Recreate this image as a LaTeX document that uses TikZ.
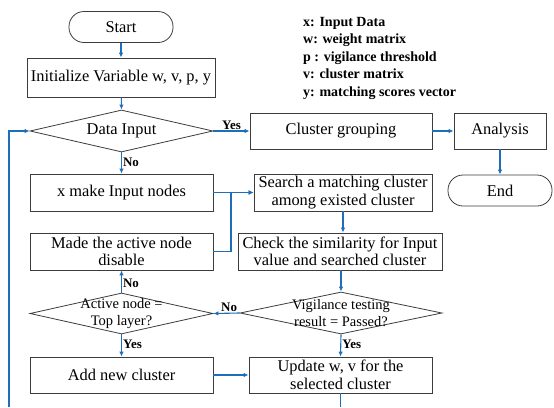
\documentclass[tikz,border=0pt]{standalone}
\usepackage{fontspec}
\setmainfont{Liberation Serif}
\usetikzlibrary{shapes.geometric,arrows.meta}
\definecolor{flow}{RGB}{30,110,185}
\definecolor{edge}{RGB}{60,60,60}
\begin{document}
\begin{tikzpicture}[x=1pt,y=-1pt,
  box/.style={draw=edge,line width=0.8pt,rectangle,inner sep=0pt,align=center,
    font=\fontsize{16.4}{17.5}\selectfont},
  term/.style={box,rounded corners=15pt},
  dia/.style={draw=edge,line width=0.8pt,diamond,inner sep=0pt,aspect=4},
  dtext/.style={align=center,font=\fontsize{14.5}{16.5}\selectfont,inner sep=0pt},
  arr/.style={draw=flow,line width=1.1pt,-{Latex[length=5pt,width=4.5pt]}},
  lin/.style={draw=flow,line width=1.1pt},
  lab/.style={font=\bfseries\fontsize{13}{14}\selectfont,inner sep=1pt}]
\useasboundingbox (0,0) rectangle (554,407);

\node[term,minimum width=104pt,minimum height=31pt] (start) at (121,27) {Start};
\node[box,minimum width=188pt,minimum height=39pt] (init) at (121,77.5) {Initialize Variable w, v, p, y};
\node[dia,minimum width=183pt,minimum height=42pt] (data) at (121.5,131) {};
\node[font=\fontsize{16.4}{18}\selectfont,inner sep=0pt] (datat) at (data.center) {Data Input};
\node[box,minimum width=182pt,minimum height=36pt] (clus) at (341,131) {Cluster grouping};
\node[box,minimum width=92pt,minimum height=36pt] (ana) at (500,131) {Analysis};
\node[term,minimum width=104pt,minimum height=31pt] (endn) at (500,190.5) {End};
\node[box,minimum width=183pt,minimum height=37pt] (xmake) at (121.5,192.5) {x make Input nodes};
\node[box,minimum width=178pt,minimum height=37pt] (search) at (343,192.5) {Search a matching cluster\\among existed cluster};
\node[box,minimum width=183pt,minimum height=37pt] (made) at (121.5,251.5) {Made the active node\\disable};
\node[box,minimum width=204pt,minimum height=37pt] (check) at (340,251.5) {Check the similarity for Input\\value and searched cluster};
\node[dia,minimum width=183pt,minimum height=41pt] (act) at (121.5,313.5) {};
\node[dtext] (actt) at (act.center) {Active node =\\Top layer?};
\node[dia,minimum width=202pt,minimum height=42pt] (vig) at (341,313) {};
\node[dtext] (vigt) at (vig.center) {Vigilance testing\\result = Passed?};
\node[box,minimum width=183pt,minimum height=36pt] (add) at (121.5,375) {Add new cluster};
\node[box,minimum width=183pt,minimum height=36pt] (upd) at (340.5,375) {Update w, v for the\\selected cluster};

\node[anchor=north west,align=left,inner sep=0pt,
  font=\bfseries\fontsize{14}{17.5}\selectfont] (legend) at (303,17)
  {x: Input Data\\w: weight matrix\\p : vigilance threshold\\v: cluster matrix\\y: matching scores vector};

\coordinate (jn) at (231,192.5);
\coordinate (ubot) at (340.5,407);
\coordinate (lbot) at (9,407);

\draw[arr] (start) -- (init);
\draw[arr] (init) -- (data.north);
\draw[arr] (data.east) -- node[lab,above]{Yes} (clus.west);
\draw[arr] (clus) -- (ana);
\draw[arr] (ana) -- (endn);
\draw[arr] (data.south) -- node[lab,right,pos=0.45]{No} (xmake.north);
\draw[arr] (xmake.east) -- (search.west);
\draw[arr] (made.east) -| (jn) -- (search.west);
\draw[arr] (search.south) -- (search.south |- check.north);
\draw[arr] (check.south -| vig.north) -- (vig.north);
\draw[arr] (vig.west) -- node[lab,above,pos=0.4]{No} (act.east);
\draw[arr] (act.north) -- node[lab,right,pos=0.4]{No} (made.south);
\draw[arr] (act.south) -- node[lab,right,pos=0.45]{Yes} (add.north);
\draw[arr] (vig.south) -- node[lab,right,pos=0.45]{Yes} (upd.north);
\draw[arr] (add.east) -- (upd.west);
\draw[lin] (upd.south) -- (ubot);
\draw[arr] (lbot) |- (data.west);
\end{tikzpicture}
\end{document}
